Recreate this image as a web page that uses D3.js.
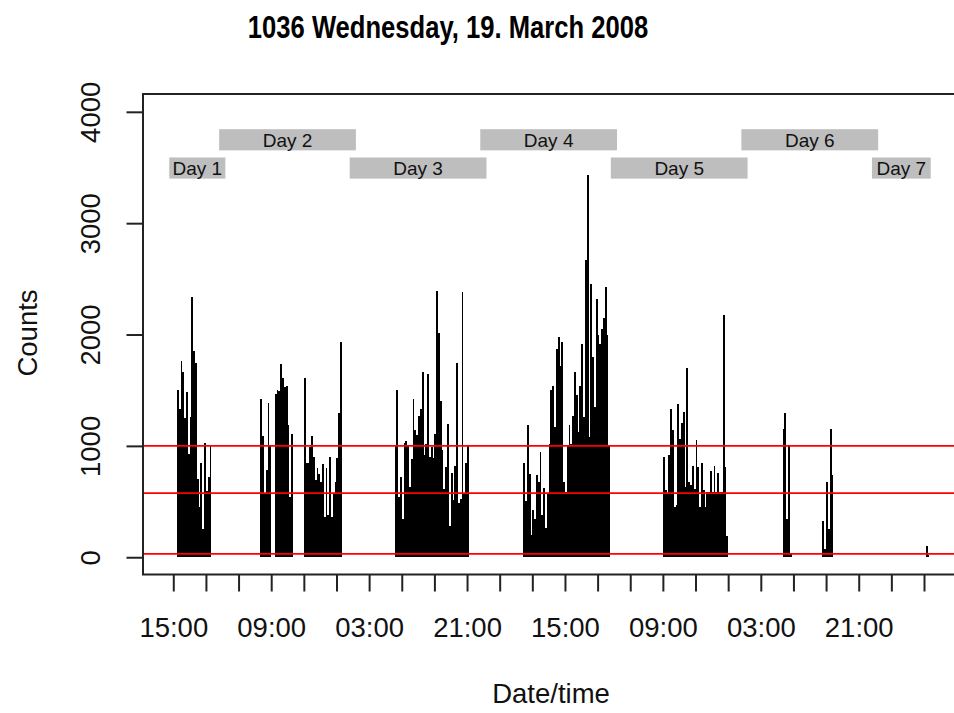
<!DOCTYPE html>
<html>
<head>
<meta charset="utf-8">
<script src="https://cdn.jsdelivr.net/npm/d3@7"></script>
<style>
  html, body { margin: 0; padding: 0; background: #fff; }
  svg { display: block; font-family: "Liberation Sans", Arial, sans-serif; }
</style>
</head>
<body>
<svg id="chart"></svg>
<script>
document.addEventListener("DOMContentLoaded", function () {

    // ================================
    // DATA (20-minute counts, bar centre times in UTC)
    // ================================
    const session1Start = "2008-03-19T15:50:00Z";
    const session1Counts = [1506, 1327, 1760, 1665, 1246, 1485, 931, 1260, 2333, 1853, 1740, 707, 452, 847, 258, 1030, 596, 721, 997];

    const session2Start = "2008-03-20T07:10:00Z";
    const session2Counts = [1425, 1087, 581, 781, 1389, 1000];

    const session3Start = "2008-03-20T09:50:00Z";
    const session3Counts = [1470, 1500, 1491, 1731, 1614, 1530, 1536, 1186, 542, 1111];

    const session4Start = "2008-03-20T15:10:00Z";
    const session4Counts = [1614, 850, 850, 991, 1090, 901, 692, 802, 752, 677, 833, 357, 802, 377, 901, 357, 572, 677, 892, 1296, 1934];

    const session5Start = "2008-03-21T07:50:00Z";
    const session5Counts = [1000, 1506, 542, 721, 347, 1030, 1042, 1000, 631, 880, 1425, 1141, 1100, 1266, 1327, 1665, 916, 1021, 1644, 901,
        991, 892, 1105, 2392, 2015, 1404, 961, 617, 806, 1201, 278, 757, 518, 817, 1740, 488, 527, 2378, 572, 850, 1000];

    const session6Start = "2008-03-22T07:30:00Z";
    const session6Counts = [847, 506, 1186, 752, 198, 422, 339, 743, 677, 946, 377, 626, 267, 572, 1021, 1506, 1536, 1170, 1866, 1979,
        1716, 1934, 677, 587, 1000, 1186, 1021, 1266, 1665, 1461, 1125, 1536, 1919, 1260, 2668, 3430, 1081, 2458, 1799, 1350,
        2315, 1994, 1919, 2054, 2144, 2428, 2000, 1000];

    const session7Start = "2008-03-23T09:10:00Z";
    const session7Counts = [901, 602, 578, 916, 1327, 1141, 452, 467, 1380, 1066, 1207, 1305, 631, 1695, 677, 647, 817, 617, 1057, 806,
        452, 842, 602, 452, 587, 587, 775, 587, 817, 587, 757, 587, 587, 2174, 806, 189];

    const session8Start = "2008-03-24T07:10:00Z";
    const session8Counts = [1156, 1296, 339, 1000, 30];

    const session9Start = "2008-03-24T14:30:00Z";
    const session9Counts = [326, 78, 677, 258, 1156, 737];

    const session10Start = "2008-03-25T09:30:00Z";
    const session10Counts = [99, 20];

    const thresholds = [30, 575, 1000];

    const dayLabels = ["Day 1", "Day 2", "Day 3", "Day 4", "Day 5", "Day 6", "Day 7"];
    const dayBounds = ["2008-03-19T14:50:00Z", "2008-03-20T00:00:00Z", "2008-03-21T00:00:00Z", "2008-03-22T00:00:00Z",
        "2008-03-23T00:00:00Z", "2008-03-24T00:00:00Z", "2008-03-25T00:00:00Z", "2008-03-25T09:40:00Z"];

    const firstTick = "2008-03-19T15:00:00Z";
    const xTickLabels = ["15:00", "09:00", "03:00", "21:00", "15:00", "09:00", "03:00", "21:00"];
    const yTickValues = [0, 1000, 2000, 3000, 4000];

    const titleText = "1036 Wednesday, 19. March 2008";

    // ================================
    // SVG + SCALES
    // ================================
    const width = 954;
    const height = 713;
    const plot = { left: 143, right: 959, top: 94, bottom: 574.5 };
    const font = "'Liberation Sans', Arial, sans-serif";

    const svg = d3.select("#chart")
        .attr("width", width)
        .attr("height", height);

    const x = d3.scaleUtc()
        .domain([d3.isoParse("2008-03-19T09:26:00Z"), d3.isoParse("2008-03-25T15:26:00Z")])
        .range([plot.left, plot.right]);

    const y = d3.scaleLinear()
        .domain([-155, 4160])
        .range([plot.bottom, plot.top]);

    // flat table of bars
    const sessions = [
        [session1Start, session1Counts], [session2Start, session2Counts], [session3Start, session3Counts],
        [session4Start, session4Counts], [session5Start, session5Counts], [session6Start, session6Counts],
        [session7Start, session7Counts], [session8Start, session8Counts], [session9Start, session9Counts],
        [session10Start, session10Counts]
    ];
    const bars = [];
    sessions.forEach(([start, counts]) => {
        const t0 = d3.isoParse(start);
        counts.forEach((c, i) => bars.push({ t: d3.utcMinute.offset(t0, 20 * i), count: c }));
    });

    // ================================
    // BARS
    // ================================
    svg.append("g")
        .attr("shape-rendering", "crispEdges")
        .selectAll("rect")
        .data(bars)
        .join("rect")
        .attr("x", d => x(d3.utcMinute.offset(d.t, -10)))
        .attr("width", d => x(d3.utcMinute.offset(d.t, 10)) - x(d3.utcMinute.offset(d.t, -10)))
        .attr("y", d => y(d.count))
        .attr("height", d => y(0) - y(d.count))
        .attr("fill", "#000");

    // threshold lines
    svg.append("g")
        .selectAll("line")
        .data(thresholds)
        .join("line")
        .attr("x1", plot.left)
        .attr("x2", plot.right)
        .attr("y1", d => y(d))
        .attr("y2", d => y(d))
        .attr("stroke", "#ff0000")
        .attr("stroke-width", 1.8);

    // ================================
    // DAY LABELS
    // ================================
    const pad = 3.1;
    const dayG = svg.append("g")
        .selectAll("g")
        .data(dayLabels)
        .join("g");

    dayG.append("rect")
        .attr("x", (d, i) => x(d3.isoParse(dayBounds[i])) - pad)
        .attr("width", (d, i) => x(d3.isoParse(dayBounds[i + 1])) - x(d3.isoParse(dayBounds[i])) + 2 * pad)
        .attr("y", (d, i) => i % 2 === 0 ? y(3590) : y(3844))
        .attr("height", y(3400) - y(3590))
        .attr("fill", "#bebebe");

    dayG.append("text")
        .attr("x", (d, i) => (x(d3.isoParse(dayBounds[i])) + x(d3.isoParse(dayBounds[i + 1]))) / 2)
        .attr("y", (d, i) => (i % 2 === 0 ? y(3495) : y(3749)) + 6.8)
        .attr("text-anchor", "middle")
        .attr("font-family", font)
        .attr("font-size", "19px")
        .attr("fill", "#111")
        .text(d => d);

    // ================================
    // BOX + AXES
    // ================================
    svg.append("rect")
        .attr("x", plot.left)
        .attr("y", plot.top)
        .attr("width", plot.right - plot.left)
        .attr("height", plot.bottom - plot.top)
        .attr("fill", "none")
        .attr("stroke", "#222")
        .attr("stroke-width", 2);

    const tickTimes = d3.range(24).map(i => d3.utcHour.offset(d3.isoParse(firstTick), 6 * i));

    const xAxis = svg.append("g")
        .attr("transform", `translate(0, ${plot.bottom})`)
        .call(d3.axisBottom(x)
            .tickValues(tickTimes)
            .tickSize(17)
            .tickFormat((d, i) => i % 3 === 0 ? xTickLabels[i / 3] : ""));
    xAxis.select(".domain").remove();
    xAxis.selectAll(".tick line").attr("stroke", "#222").attr("stroke-width", 2);
    xAxis.selectAll(".tick text")
        .attr("y", 62)
        .attr("dy", 0)
        .attr("font-family", font)
        .attr("font-size", "27.5px")
        .attr("fill", "#111");

    const yAxis = svg.append("g")
        .attr("transform", `translate(${plot.left}, 0)`)
        .call(d3.axisLeft(y).tickValues(yTickValues).tickSize(16.5).tickFormat(d3.format("d")));
    yAxis.select(".domain").remove();
    yAxis.selectAll(".tick line").attr("stroke", "#222").attr("stroke-width", 2);
    yAxis.selectAll(".tick text")
        .attr("transform", "rotate(-90)")
        .attr("x", 0)
        .attr("y", -43)
        .attr("dy", 0)
        .attr("text-anchor", "middle")
        .attr("font-family", font)
        .attr("font-size", "27.5px")
        .attr("fill", "#111");

    // ================================
    // TITLES
    // ================================
    svg.append("text")
        .attr("transform", "translate(448, 38.3) scale(0.826, 1)")
        .attr("text-anchor", "middle")
        .attr("font-family", font)
        .attr("font-weight", "bold")
        .attr("font-size", "31px")
        .attr("fill", "#000")
        .text(titleText);

    svg.append("text")
        .attr("x", 551)
        .attr("y", 703)
        .attr("text-anchor", "middle")
        .attr("font-family", font)
        .attr("font-size", "27.5px")
        .attr("fill", "#111")
        .text("Date/time");

    svg.append("text")
        .attr("transform", "translate(36.7, 333) rotate(-90)")
        .attr("text-anchor", "middle")
        .attr("font-family", font)
        .attr("font-size", "27.5px")
        .attr("fill", "#111")
        .text("Counts");
});
</script>
</body>
</html>
